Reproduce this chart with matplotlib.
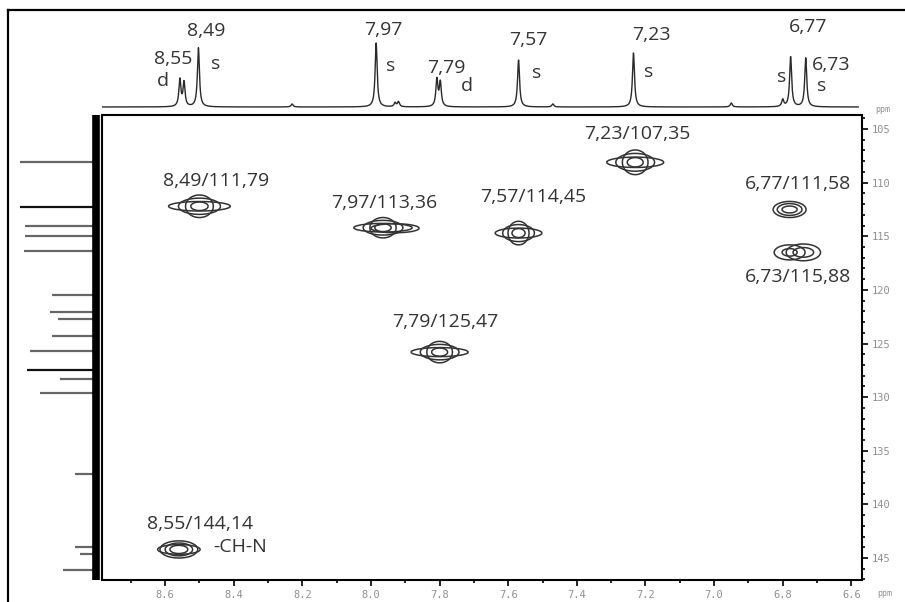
import numpy as np
import matplotlib.pyplot as plt
from matplotlib.lines import Line2D
from matplotlib.ticker import MultipleLocator, FormatStrFormatter

plt.rcParams['font.family'] = ['Open Sans', 'DejaVu Sans']

# --- data ---
# 1H projection (top): peak position (ppm) and relative height
h_pos = [8.557, 8.545, 8.503, 8.23, 7.93, 7.92, 7.985, 7.808, 7.798, 7.57, 7.47, 7.235, 6.95, 6.80, 6.777, 6.733]
h_int = [27, 24, 59, 3, 4, 5, 64, 27, 24, 47, 3, 54, 4, 7, 50, 49]

# 13C projection (left): peak position (ppm) and relative height
c_pos = [108.1, 112.3, 114.0, 115.0, 116.4, 120.5, 122.1, 122.7, 124.3, 125.7, 127.5, 128.3, 129.6, 137.2, 144.0, 144.6, 146.1]
c_int = [77, 77, 72, 72, 73, 45, 47, 39, 45, 67, 70, 37, 57, 22, 22, 17, 34]
c_dark = [False, True, False, False, False, False, False, False, False, False, True, False, False, False, False, False, False]

# HSQC cross peaks (1H ppm, 13C ppm) and their labels
xp_h = [8.50, 7.965, 7.57, 7.23, 6.78, 6.76, 7.80, 8.56]
xp_c = [112.2, 114.2, 114.7, 108.1, 112.5, 116.5, 125.8, 144.2]
xp_lab = ['8,49/111,79', '7,97/113,36', '7,57/114,45', '7,23/107,35',
          '6,77/111,58', '6,73/115,88', '7,79/125,47', '8,55/144,14']

# top projection annotations
top_lab = ['8,49', 's', '8,55', 'd', '7,97', 's', '7,79', 'd',
           '7,57', 's', '7,23', 's', '6,77', 's', '6,73', 's']

# --- layout (pixels in the 905x602 figure) ---
W, H = 905, 602
def fx(px):
    return px / W
def fy(py):
    return 1 - py / H

xp_lab_px = [(216, 181), (384, 203), (533, 197), (637, 134),
             (798, 184), (798, 277), (445, 322), (200, 524)]
top_lab_px = [(206, 31), (216, 64), (173, 59), (163, 81), (383, 30), (391, 66),
              (446, 68), (467, 86), (528, 40), (537, 73), (651, 35), (649, 72),
              (808, 27), (782, 77), (831, 65), (822, 86)]

# contour shapes for each cross peak: list of (dx, dy, a, b) ellipses in ppm
def saucer(w, h, dx=0.0):
    return [(dx, 0, w, 0.42 * h), (dx, 0, 0.68 * w, 0.72 * h),
            (dx, 0, 0.45 * w, h), (dx, 0, 0.28 * w, 0.38 * h)]

shapes = [
    saucer(0.090, 1.05),
    saucer(0.085, 0.95) + [(-0.035, 0.05, 0.07, 0.42)],
    saucer(0.068, 1.10),
    saucer(0.083, 1.15),
    [(0, 0, 0.048, 0.75), (0, 0, 0.036, 0.55), (0, 0, 0.022, 0.32)],
    [(0.02, 0, 0.045, 0.70), (-0.02, 0, 0.050, 0.78), (-0.02, 0, 0.030, 0.45), (0.02, 0, 0.022, 0.35)],
    saucer(0.083, 1.00),
    [(0, 0, 0.055, 0.80), (0, 0, 0.040, 0.60), (0, 0, 0.026, 0.38), (0, 0, 0.062, 0.45)],
]

fig = plt.figure(figsize=(9.05, 6.02), dpi=100)

xlim = (8.784, 6.569)
ylim = (147.05, 103.69)
grey = '#8f8f8f'
ink = '#333333'

# main 2D panel
ax = fig.add_axes([fx(102), fy(580), fx(760), 465 / H])
ax.set_xlim(*xlim)
ax.set_ylim(*ylim)
X, Y = np.meshgrid(np.linspace(8.8, 6.55, 1400), np.linspace(103, 148, 1200))
for h, c, comps in zip(xp_h, xp_c, shapes):
    for dx, dy, a, b in comps:
        R = np.sqrt(((X - h - dx) / a) ** 2 + ((Y - c - dy) / b) ** 2)
        ax.contour(X, Y, R, levels=[1.0], colors=ink, linewidths=1.1)
for spine in ax.spines.values():
    spine.set_linewidth(1.5)
ax.yaxis.tick_right()
ax.xaxis.set_major_locator(MultipleLocator(0.2))
ax.xaxis.set_minor_locator(MultipleLocator(0.1))
ax.xaxis.set_major_formatter(FormatStrFormatter('%.1f'))
ax.yaxis.set_major_locator(MultipleLocator(5))
ax.yaxis.set_minor_locator(MultipleLocator(1))
ax.tick_params(which='major', direction='out', length=4, width=1.2,
               labelsize=7.5, labelcolor=grey, pad=3)
ax.tick_params(which='minor', direction='out', length=2, width=1.2)
for lab in ax.get_xticklabels() + ax.get_yticklabels():
    lab.set_family('DejaVu Sans Mono')

# top 1H projection
axt = fig.add_axes([fx(102), fy(115), fx(760), 85 / H])
xs = np.linspace(8.79, 6.58, 6000)
spec = np.zeros_like(xs)
g = 0.0035
for p, i in zip(h_pos, h_int):
    spec += i * g ** 2 / ((xs - p) ** 2 + g ** 2)
axt.plot(xs, spec, color='#2a2a2a', lw=1)
axt.set_xlim(*xlim)
axt.set_ylim(-8, 77)
axt.axis('off')

# left 13C projection
axl = fig.add_axes([fx(15), fy(580), fx(87), 465 / H])
axl.hlines(c_pos, 0, c_int, colors=['#111111' if d else '#666666' for d in c_dark], lw=1.6)
axl.axvline(1.0, color='black', lw=5.5)
axl.set_xlim(82, -5)
axl.set_ylim(*ylim)
axl.axis('off')

# labels
for t, (px, py) in zip(xp_lab, xp_lab_px):
    fig.text(fx(px), fy(py), t, ha='center', va='center', fontsize=14, color=ink)
fig.text(fx(213), fy(547), '-CH-N', ha='left', va='center', fontsize=14, color=ink)
for t, (px, py) in zip(top_lab, top_lab_px):
    fig.text(fx(px), fy(py), t, ha='center', va='center', fontsize=14, color=ink)
fig.text(fx(885), fy(593), 'ppm', ha='center', va='center', fontsize=6, color=grey,
         family='DejaVu Sans Mono')
fig.text(fx(883), fy(109), 'ppm', ha='center', va='center', fontsize=6, color=grey,
         family='DejaVu Sans Mono')

# outer frame
fig.add_artist(Line2D([fx(8), 1], [fy(10), fy(10)], color='black', lw=1.6))
fig.add_artist(Line2D([fx(8), fx(8)], [fy(10), 0], color='black', lw=1.6))

fig.savefig('out.png', dpi=100)
